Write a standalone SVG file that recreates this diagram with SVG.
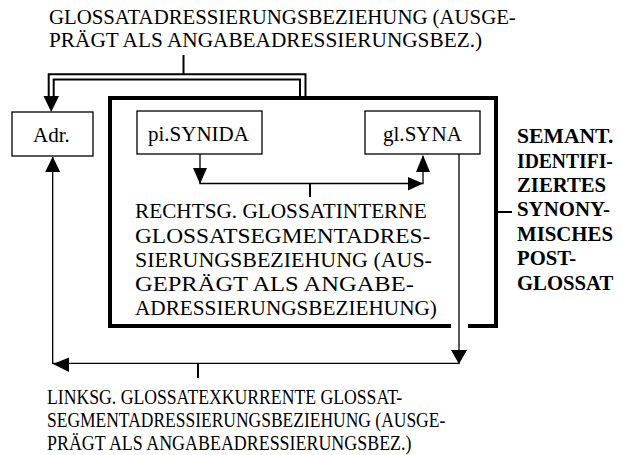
<svg xmlns="http://www.w3.org/2000/svg" width="621" height="455" viewBox="0 0 621 455">
<style>
text{font-family:"Liberation Serif","Times New Roman",serif;font-size:20.5px;fill:#000}
.b{font-weight:bold;font-size:20px}
.box{fill:#fff;stroke:#000;stroke-width:1.3}
.ln{fill:none;stroke:#000;stroke-width:1.3}
.dl{fill:none;stroke:#000;stroke-width:2}
.ah{fill:#000;stroke:none}
</style>
<rect width="621" height="455" fill="#fff"/>
<g id="title-top">
<text transform="translate(49 23.5) scale(1.015 1)">GLOSSATADRESSIERUNGSBEZIEHUNG (AUSGE-</text>
<text transform="translate(49 47) scale(1.039 1)">PRÄGT ALS ANGABEADRESSIERUNGSBEZ.)</text>
</g>
<g id="postglossat">
<path d="M451 326 H110 V98 H496 V326 H468" fill="none" stroke="#000" stroke-width="4"/>
</g>
<g id="adr">
<rect class="box" x="12" y="112" width="81" height="44"/>
<text transform="translate(33 142) scale(1.027 1)">Adr.</text>
</g>
<g id="pi-synida">
<rect class="box" x="137" y="111" width="125" height="43"/>
<text transform="translate(148 141) scale(1.025 1)">pi.SYNIDA</text>
</g>
<g id="gl-syna">
<rect class="box" x="365" y="111" width="115" height="43"/>
<text transform="translate(383 141) scale(1.027 1)">gl.SYNA</text>
</g>
<g id="label-inner">
<text transform="translate(135 218) scale(1.037 1)">RECHTSG. GLOSSATINTERNE</text>
<text transform="translate(135 242.5) scale(1.14 1)">GLOSSATSEGMENTADRES-</text>
<text transform="translate(135 266.5) scale(1.071 1)">SIERUNGSBEZIEHUNG (AUS-</text>
<text transform="translate(135 290.5) scale(1.197 1)">GEPRÄGT ALS ANGABE-</text>
<text transform="translate(135 315) scale(1.036 1)">ADRESSIERUNGSBEZIEHUNG)</text>
</g>
<g id="label-right">
<text class="b" transform="translate(517 143) scale(1.082 1)">SEMANT.</text>
<text class="b" transform="translate(517 167.5) scale(0.981 1)">IDENTIFI-</text>
<text class="b" transform="translate(517 191.5) scale(1.037 1)">ZIERTES</text>
<text class="b" transform="translate(517 216) scale(1.043 1)">SYNONY-</text>
<text class="b" transform="translate(517 240.5) scale(1.041 1)">MISCHES</text>
<text class="b" transform="translate(517 265) scale(1.035 1)">POST-</text>
<text class="b" transform="translate(517 289.5) scale(1.036 1)">GLOSSAT</text>
</g>
<g id="label-bottom">
<text transform="translate(47 404) scale(0.863 1)">LINKSG. GLOSSATEXKURRENTE GLOSSAT-</text>
<text transform="translate(47 427) scale(0.853 1)">SEGMENTADRESSIERUNGSBEZIEHUNG (AUSGE-</text>
<text transform="translate(47 450) scale(0.874 1)">PRÄGT ALS ANGABEADRESSIERUNGSBEZ.)</text>
</g>
<g id="connectors">
<path class="dl" d="M48.7 97 V74.3 H305.5 V97"/>
<path class="dl" d="M53.7 97 V79.5 H300 V97"/>
<polygon class="ah" points="43.5,96 59,96 51.2,112"/>
<line class="dl" x1="183.5" y1="55" x2="183.5" y2="74"/>
<path class="ln" d="M200 154 V183.5 H423 V156"/>
<polygon class="ah" points="193,168 207,168 200,184"/>
<polygon class="ah" points="408,177 408,190.5 423,183.5"/>
<polygon class="ah" points="416,172 430,172 423,155"/>
<line class="dl" x1="310" y1="183.5" x2="310" y2="197"/>
<line class="dl" x1="497" y1="212" x2="512" y2="212"/>
<path class="ln" d="M459 154 V363.3 H52.7 V157"/>
<polygon class="ah" points="451,350 467,350 459,364"/>
<polygon class="ah" points="69,357.5 69,372 53,364"/>
<polygon class="ah" points="45.2,172 60.2,172 52.7,156.5"/>
<line class="dl" x1="198" y1="363.3" x2="198" y2="378"/>
</g>
</svg>
